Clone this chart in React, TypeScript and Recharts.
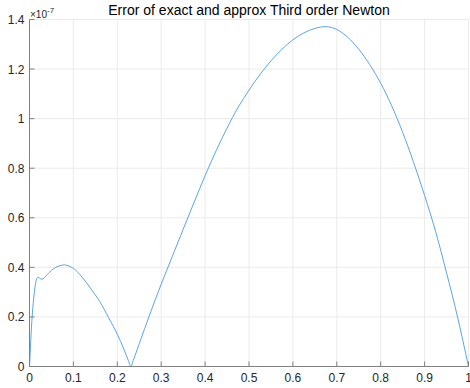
import { CartesianGrid, Line, LineChart, XAxis, YAxis } from "recharts";

// x positions and error values (in units of 1e-7)
const xs = [
  0, 0.006, 0.019, 0.028, 0.04, 0.05, 0.06, 0.07, 0.08, 0.09, 0.1, 0.12, 0.14, 0.16, 0.18, 0.2, 0.215, 0.225, 0.231,
  0.236, 0.25, 0.275, 0.3, 0.325, 0.35, 0.375, 0.4, 0.425, 0.45, 0.475, 0.5, 0.525, 0.55, 0.575, 0.6, 0.625, 0.65,
  0.675, 0.7, 0.725, 0.75, 0.775, 0.8, 0.825, 0.85, 0.875, 0.9, 0.925, 0.95, 0.975, 1,
];
const errs = [
  0, 0.2, 0.36, 0.352, 0.37, 0.388, 0.4, 0.407, 0.41, 0.405, 0.396, 0.36, 0.313, 0.262, 0.198, 0.13, 0.07, 0.025, 0,
  0.023, 0.092, 0.215, 0.332, 0.443, 0.553, 0.663, 0.77, 0.87, 0.962, 1.045, 1.115, 1.178, 1.233, 1.28, 1.318, 1.346,
  1.364, 1.371, 1.36, 1.328, 1.28, 1.218, 1.143, 1.052, 0.945, 0.823, 0.69, 0.545, 0.378, 0.2, 0,
];

const xTicks = [0, 0.1, 0.2, 0.3, 0.4, 0.5, 0.6, 0.7, 0.8, 0.9, 1];
const yTicks = [0, 0.2, 0.4, 0.6, 0.8, 1, 1.2, 1.4];

const title = "Error of exact and approx Third order Newton";
const exponent = "-7";

const data = xs.map((x, i) => ({ x, err: errs[i] }));

const FONT = "'Liberation Sans', Arial, sans-serif";
const TXT = "#262626";
const AXIS = "#808080";
const TL = 5;

function BottomTick({ x, y, payload }: any) {
  return (
    <g>
      <line x1={x} y1={y} x2={x} y2={y - TL} stroke={AXIS} />
      <text x={x} y={y + 15.5} textAnchor="middle" fontSize={12} fontFamily={FONT} fill={TXT}>
        {payload.value}
      </text>
    </g>
  );
}

function LeftTick({ x, y, payload }: any) {
  return (
    <g>
      <line x1={x} y1={y} x2={x + TL} y2={y} stroke={AXIS} />
      <text x={x - 5} y={y + 4.5} textAnchor="end" fontSize={12} fontFamily={FONT} fill={TXT}>
        {payload.value}
      </text>
    </g>
  );
}

function TopTick({ x, y }: any) {
  return <line x1={x} y1={y} x2={x} y2={y + TL} stroke={AXIS} />;
}

function RightTick({ x, y }: any) {
  return <line x1={x} y1={y} x2={x - TL} y2={y} stroke={AXIS} />;
}

export default function App() {
  return (
    <div style={{ position: "absolute", left: 0, top: 0, width: 470, height: 388, background: "#fff" }}>
      <LineChart width={470} height={388} data={data} margin={{ top: 19.5, right: 1.5, bottom: 0, left: 0 }}>
        <CartesianGrid stroke="#ebebeb" />
        <XAxis
          dataKey="x"
          type="number"
          domain={[0, 1]}
          ticks={xTicks}
          height={21.5}
          tickSize={0}
          tickMargin={0}
          stroke={AXIS}
          tick={<BottomTick />}
          interval={0}
        />
        <XAxis
          xAxisId="top"
          dataKey="x"
          type="number"
          orientation="top"
          domain={[0, 1]}
          ticks={xTicks}
          height={0}
          tickSize={0}
          tickMargin={0}
          stroke={AXIS}
          tick={<TopTick />}
          interval={0}
        />
        <YAxis
          type="number"
          domain={[0, 1.4]}
          ticks={yTicks}
          width={29.5}
          tickSize={0}
          tickMargin={0}
          stroke={AXIS}
          tick={<LeftTick />}
          interval={0}
        />
        <YAxis
          yAxisId="right"
          type="number"
          orientation="right"
          domain={[0, 1.4]}
          ticks={yTicks}
          width={0}
          tickSize={0}
          tickMargin={0}
          stroke={AXIS}
          tick={<RightTick />}
          interval={0}
        />
        <Line
          dataKey="err"
          type="monotone"
          stroke="#5aa6e4"
          strokeWidth={1}
          dot={false}
          isAnimationActive={false}
        />
      </LineChart>
      <svg width={470} height={22} style={{ position: "absolute", left: 0, top: 0 }}>
        <text x={249} y={15} textAnchor="middle" fontSize={14} fontFamily={FONT} fill="#000">
          {title}
        </text>
        <text x={30} y={17.5} fontSize={10} fontFamily={FONT} fill={TXT}>
          ×10
          <tspan dy={-5} fontSize={8}>
            {exponent}
          </tspan>
        </text>
      </svg>
    </div>
  );
}
